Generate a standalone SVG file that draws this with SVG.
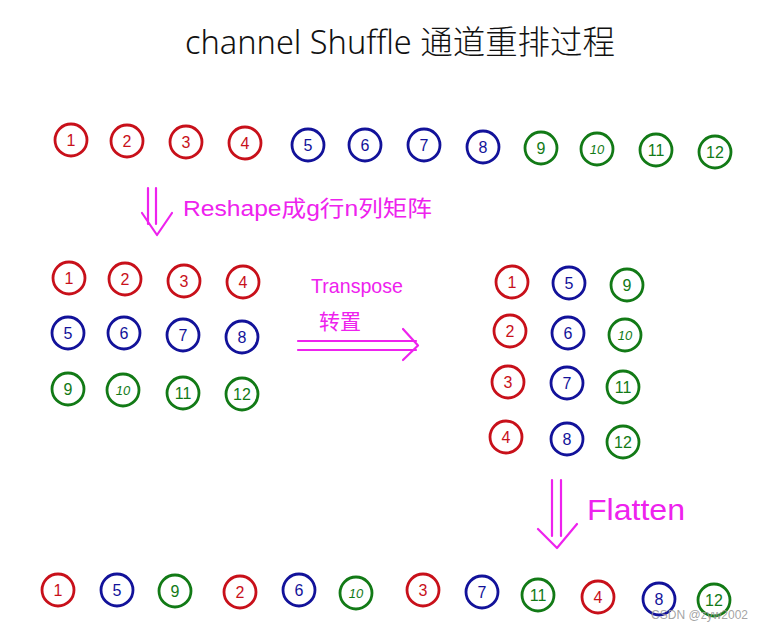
<svg xmlns="http://www.w3.org/2000/svg" width="763" height="632" viewBox="0 0 763 632">
<style>
  circle{fill:none;stroke-width:2.8}
  .r circle{stroke:#c8101a}
  .b circle{stroke:#12129a}
  .g circle{stroke:#127a16}
  .n{font-family:"Liberation Sans","Noto Sans",sans-serif;font-size:16px;text-anchor:middle;dominant-baseline:central}
  .r text{fill:#c8101a}
  .b text{fill:#12129a}
  .g text{fill:#127a16}
  .s{font-size:13px;font-style:italic}
  .m{fill:none;stroke:#ee22ee;stroke-width:2.2;stroke-linecap:round;stroke-linejoin:round}
  .lbl{font-family:"Liberation Sans","Noto Sans CJK SC",sans-serif;fill:#ee22ee}
</style>
<rect width="763" height="632" fill="#ffffff"/>
<text x="400" y="54" text-anchor="middle" font-family="'Noto Sans','Noto Sans CJK SC',sans-serif" font-size="33" font-weight="300" fill="#111" textLength="430" lengthAdjust="spacingAndGlyphs">channel Shuffle 通道重排过程</text>

<g id="top-row">
  <g id="t1" class="r"><circle cx="71" cy="140" r="16"/><text class="n" x="71" y="140">1</text></g>
  <g id="t2" class="r"><circle cx="127" cy="141" r="16"/><text class="n" x="127" y="141">2</text></g>
  <g id="t3" class="r"><circle cx="186" cy="142" r="16"/><text class="n" x="186" y="142">3</text></g>
  <g id="t4" class="r"><circle cx="245" cy="143" r="16"/><text class="n" x="245" y="143">4</text></g>
  <g id="t5" class="b"><circle cx="308" cy="145" r="16"/><text class="n" x="308" y="145">5</text></g>
  <g id="t6" class="b"><circle cx="365" cy="145" r="16"/><text class="n" x="365" y="145">6</text></g>
  <g id="t7" class="b"><circle cx="424" cy="145" r="16"/><text class="n" x="424" y="145">7</text></g>
  <g id="t8" class="b"><circle cx="483" cy="147" r="16"/><text class="n" x="483" y="147">8</text></g>
  <g id="t9" class="g"><circle cx="541" cy="148" r="16"/><text class="n" x="541" y="148">9</text></g>
  <g id="t10" class="g"><circle cx="597" cy="149" r="16"/><text class="n s" x="597" y="149">10</text></g>
  <g id="t11" class="g"><circle cx="656" cy="150" r="16"/><text class="n" x="656" y="150">11</text></g>
  <g id="t12" class="g"><circle cx="715" cy="152" r="16"/><text class="n" x="715" y="152">12</text></g>
</g>

<g id="grid-left">
  <g id="a1" class="r"><circle cx="69" cy="278" r="16"/><text class="n" x="69" y="278">1</text></g>
  <g id="a2" class="r"><circle cx="125" cy="279" r="16"/><text class="n" x="125" y="279">2</text></g>
  <g id="a3" class="r"><circle cx="184" cy="281" r="16"/><text class="n" x="184" y="281">3</text></g>
  <g id="a4" class="r"><circle cx="243" cy="282" r="16"/><text class="n" x="243" y="282">4</text></g>
  <g id="a5" class="b"><circle cx="68" cy="333" r="16"/><text class="n" x="68" y="333">5</text></g>
  <g id="a6" class="b"><circle cx="124" cy="333" r="16"/><text class="n" x="124" y="333">6</text></g>
  <g id="a7" class="b"><circle cx="183" cy="335" r="16"/><text class="n" x="183" y="335">7</text></g>
  <g id="a8" class="b"><circle cx="242" cy="337" r="16"/><text class="n" x="242" y="337">8</text></g>
  <g id="a9" class="g"><circle cx="68" cy="389" r="16"/><text class="n" x="68" y="389">9</text></g>
  <g id="a10" class="g"><circle cx="123" cy="390" r="16"/><text class="n s" x="123" y="390">10</text></g>
  <g id="a11" class="g"><circle cx="183" cy="393" r="16"/><text class="n" x="183" y="393">11</text></g>
  <g id="a12" class="g"><circle cx="242" cy="394" r="16"/><text class="n" x="242" y="394">12</text></g>
</g>

<g id="grid-right">
  <g id="b1" class="r"><circle cx="512" cy="282" r="16"/><text class="n" x="512" y="282">1</text></g>
  <g id="b2" class="r"><circle cx="510" cy="331" r="16"/><text class="n" x="510" y="331">2</text></g>
  <g id="b3" class="r"><circle cx="508" cy="382" r="16"/><text class="n" x="508" y="382">3</text></g>
  <g id="b4" class="r"><circle cx="506" cy="437" r="16"/><text class="n" x="506" y="437">4</text></g>
  <g id="b5" class="b"><circle cx="569" cy="283" r="16"/><text class="n" x="569" y="283">5</text></g>
  <g id="b6" class="b"><circle cx="568" cy="333" r="16"/><text class="n" x="568" y="333">6</text></g>
  <g id="b7" class="b"><circle cx="567" cy="383" r="16"/><text class="n" x="567" y="383">7</text></g>
  <g id="b8" class="b"><circle cx="567" cy="439" r="16"/><text class="n" x="567" y="439">8</text></g>
  <g id="b9" class="g"><circle cx="627" cy="285" r="16"/><text class="n" x="627" y="285">9</text></g>
  <g id="b10" class="g"><circle cx="625" cy="335" r="16"/><text class="n s" x="625" y="335">10</text></g>
  <g id="b11" class="g"><circle cx="623" cy="387" r="16"/><text class="n" x="623" y="387">11</text></g>
  <g id="b12" class="g"><circle cx="623" cy="442" r="16"/><text class="n" x="623" y="442">12</text></g>
</g>

<g id="bottom-row">
  <g id="c1" class="r"><circle cx="58" cy="590" r="16"/><text class="n" x="58" y="590">1</text></g>
  <g id="c5" class="b"><circle cx="117" cy="590" r="16"/><text class="n" x="117" y="590">5</text></g>
  <g id="c9" class="g"><circle cx="175" cy="591" r="16"/><text class="n" x="175" y="591">9</text></g>
  <g id="c2" class="r"><circle cx="240" cy="592" r="16"/><text class="n" x="240" y="592">2</text></g>
  <g id="c6" class="b"><circle cx="299" cy="590" r="16"/><text class="n" x="299" y="590">6</text></g>
  <g id="c10" class="g"><circle cx="356" cy="593" r="16"/><text class="n s" x="356" y="593">10</text></g>
  <g id="c3" class="r"><circle cx="423" cy="590" r="16"/><text class="n" x="423" y="590">3</text></g>
  <g id="c7" class="b"><circle cx="482" cy="592" r="16"/><text class="n" x="482" y="592">7</text></g>
  <g id="c11" class="g"><circle cx="538" cy="595" r="16"/><text class="n" x="538" y="595">11</text></g>
  <g id="c4" class="r"><circle cx="598" cy="597" r="16"/><text class="n" x="598" y="597">4</text></g>
  <g id="c8" class="b"><circle cx="659" cy="599" r="16"/><text class="n" x="659" y="599">8</text></g>
  <g id="c12" class="g"><circle cx="714" cy="600" r="16"/><text class="n" x="714" y="600">12</text></g>
</g>

<g id="connectors">
  <g id="reshape-arrow">
    <path class="m" d="M148 188V224M156 188V224M142 213L157 235L172 213"/>
  </g>
  <g id="transpose-arrow">
    <path class="m" d="M298 341H416M298 350H416M403 329L418 345.5L403 360"/>
  </g>
  <g id="flatten-arrow">
    <path class="m" d="M552 480V536M561 480V536M538 529L557 548L577 524"/>
  </g>
</g>

<text class="lbl" x="183" y="216" font-size="22" textLength="249" lengthAdjust="spacingAndGlyphs">Reshape成g行n列矩阵</text>
<text class="lbl" x="311" y="293" font-size="21" textLength="92" lengthAdjust="spacingAndGlyphs">Transpose</text>
<text class="lbl" x="319" y="329" font-size="21">转置</text>
<text class="lbl" x="587" y="520" font-size="30" textLength="98" lengthAdjust="spacingAndGlyphs">Flatten</text>

<text x="748" y="619" text-anchor="end" font-family="'Liberation Sans',sans-serif" font-size="12" fill="#999" fill-opacity="0.9">CSDN @zyw2002</text>
</svg>
